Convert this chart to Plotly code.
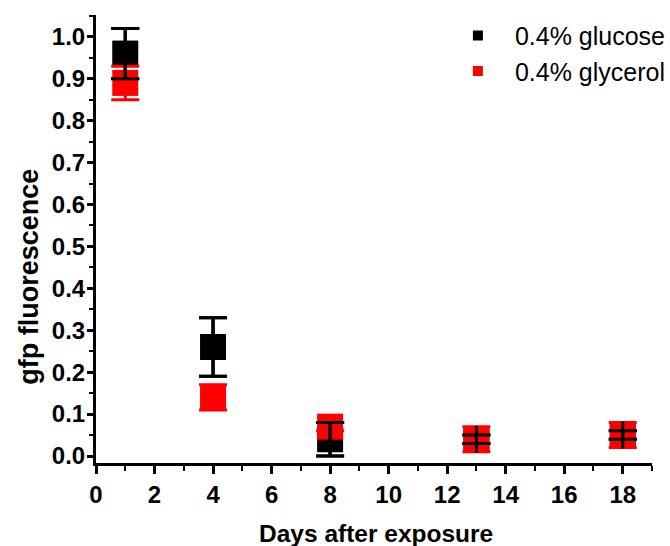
import plotly.graph_objects as go

# ---- data ----
days = [1, 4, 8, 13, 18]
glucose = [0.96, 0.26, 0.04, 0.04, 0.05]
glucose_sd = [0.06, 0.07, 0.04, 0.01, 0.01]
glucose_stem = [0.06, 0.07, 0.04, 0.032, 0.032]
glycerol = [0.89, 0.14, 0.07, 0.04, 0.05]
glycerol_sd = [0.04, 0.03, 0.01, 0.03, 0.03]

series_names = ["0.4% glucose", "0.4% glycerol"]
x_ticks = [0, 2, 4, 6, 8, 10, 12, 14, 16, 18]
y_ticks = [0.0, 0.1, 0.2, 0.3, 0.4, 0.5, 0.6, 0.7, 0.8, 0.9, 1.0]

BLACK = "#000000"
RED = "#ff0000"
MS = 26
FAM = "Liberation Sans, Arial, sans-serif"

fig = go.Figure()

# glucose markers (bottom layer)
fig.add_trace(go.Scatter(
    x=days, y=glucose, mode="markers",
    marker=dict(symbol="square", size=MS, color=BLACK, line=dict(width=0)),
    error_y=dict(type="data", array=glucose_sd, color=BLACK, thickness=3, width=14),
    showlegend=False, hoverinfo="skip"))

# glycerol markers
fig.add_trace(go.Scatter(
    x=days, y=glycerol, mode="markers",
    marker=dict(symbol="square", size=MS, color=RED, line=dict(width=0)),
    error_y=dict(type="data", array=glycerol_sd, color=RED, thickness=3, width=14),
    showlegend=False, hoverinfo="skip"))

# glucose error bars drawn on top (stem + caps)
fig.add_trace(go.Scatter(
    x=days, y=glucose, mode="markers",
    marker=dict(size=1, color="rgba(0,0,0,0)"),
    error_y=dict(type="data", array=glucose_stem, color=BLACK, thickness=3, width=0),
    showlegend=False, hoverinfo="skip"))
fig.add_trace(go.Scatter(
    x=days, y=glucose, mode="markers",
    marker=dict(size=1, color="rgba(0,0,0,0)"),
    error_y=dict(type="data", array=glucose_sd, color=BLACK, thickness=3, width=14),
    showlegend=False, hoverinfo="skip"))

# legend entries
for name, col in zip(series_names, [BLACK, RED]):
    fig.add_trace(go.Scatter(
        x=[None], y=[None], mode="markers", name=name,
        marker=dict(symbol="square", size=10, color=col)))

tick_font = dict(family=FAM, size=24, color=BLACK, weight="bold")

fig.update_layout(
    width=670, height=546,
    margin=dict(l=96, r=18, t=15, b=83, autoexpand=False),
    paper_bgcolor="white", plot_bgcolor="white",
    font=dict(family=FAM, color=BLACK),
    showlegend=True,
    legend=dict(
        x=1.034, xanchor="right", y=1.005, yanchor="top",
        xref="paper", yref="paper",
        font=dict(family=FAM, size=25, color=BLACK),
        bgcolor="rgba(0,0,0,0)", borderwidth=0,
        itemwidth=64, tracegroupgap=0,
    ),
    xaxis=dict(
        range=[0, 19], tickvals=x_ticks, ticktext=[str(v) for v in x_ticks],
        showline=True, linewidth=3, linecolor=BLACK, mirror=False,
        showgrid=False, zeroline=False,
        ticks="outside", ticklen=8, tickwidth=3, tickcolor=BLACK,
        minor=dict(dtick=1, ticks="outside", ticklen=5, tickwidth=2, tickcolor=BLACK, showgrid=False),
        tickfont=tick_font,
        ticklabelstandoff=0,
        automargin=False,
    ),
    yaxis=dict(
        range=[-0.0167, 1.052], tickvals=y_ticks, ticktext=[f"{v:.1f}" for v in y_ticks],
        showline=True, linewidth=3, linecolor=BLACK, mirror=False,
        showgrid=False, zeroline=False,
        ticks="outside", ticklen=6, tickwidth=3, tickcolor=BLACK,
        minor=dict(dtick=0.05, ticks="outside", ticklen=4, tickwidth=2, tickcolor=BLACK, showgrid=False),
        tickfont=tick_font,
        ticklabelstandoff=-3,
        automargin=False,
    ),
    annotations=[
        dict(text="Days after exposure", xref="paper", yref="paper",
             x=0.5027, y=-0.158, xanchor="center", yanchor="middle", showarrow=False,
             font=dict(family=FAM, size=24.5, color=BLACK, weight="bold")),
        dict(text="gfp fluorescence", xref="paper", yref="paper",
             x=-0.12, y=0.4165, xanchor="center", yanchor="middle", showarrow=False,
             textangle=-90,
             font=dict(family=FAM, size=27, color=BLACK, weight="bold")),
    ],
)

fig.write_html("out.html")
